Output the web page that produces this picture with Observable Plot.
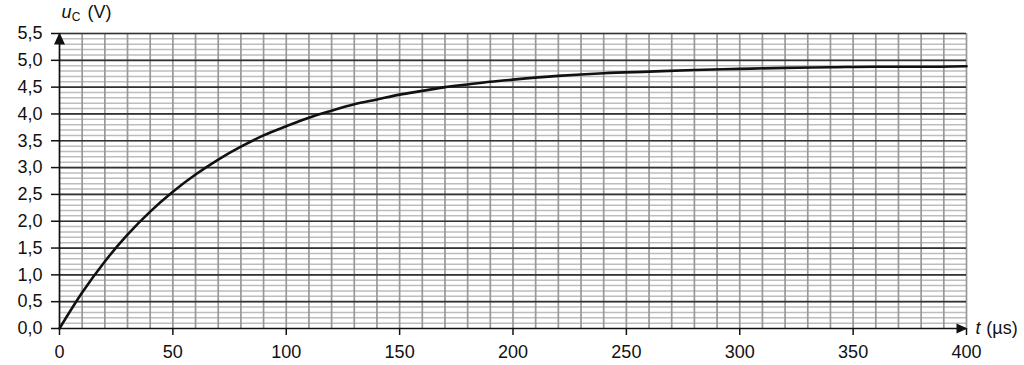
<!DOCTYPE html>
<html>
<head>
<meta charset="utf-8">
<script src="https://cdn.jsdelivr.net/npm/d3@7"></script>
<script src="https://cdn.jsdelivr.net/npm/@observablehq/plot@0.6"></script>
<style>
  html, body { margin: 0; padding: 0; background: #fff; }
  #chart svg { display: block; }
</style>
</head>
<body>
<div id="chart"></div>
<script>
// Data
const tValues = [0, 10, 20, 30, 40, 50, 60, 70, 80, 90, 100, 110, 120, 130, 140, 150, 160, 170, 180, 190, 200,
                 220, 240, 260, 280, 300, 320, 340, 360, 380, 400];
const uValues = [0, 0.67, 1.25, 1.75, 2.18, 2.55, 2.87, 3.15, 3.39, 3.60, 3.77, 3.93, 4.06, 4.18, 4.27, 4.36, 4.43, 4.50, 4.55, 4.60, 4.64,
                 4.71, 4.76, 4.79, 4.82, 4.84, 4.86, 4.87, 4.88, 4.88, 4.89];
const xTicks = [0, 50, 100, 150, 200, 250, 300, 350, 400];
const yTicks = [0, 0.5, 1, 1.5, 2, 2.5, 3, 3.5, 4, 4.5, 5, 5.5];
const xGrid = d3.range(10, 401, 10);
const yMinor = d3.range(1, 56).map(i => i / 10);

const data = tValues.map((t, i) => ({t, u: uValues[i]}));

const arrowUp = { draw(ctx) { ctx.moveTo(0, -1); ctx.lineTo(5.5, 11); ctx.lineTo(-5.5, 11); ctx.closePath(); } };
const arrowRight = { draw(ctx) { ctx.moveTo(1, 0); ctx.lineTo(-10, -5); ctx.lineTo(-10, 5); ctx.closePath(); } };

const font = "'Liberation Sans', Arial, sans-serif";
const yAnchor = [{t: 0, u: 5.5}];
const xAnchor = [{t: 400, u: 0}];

const chart = Plot.plot({
  width: 1024,
  height: 365,
  marginLeft: 59,
  marginRight: 58,
  marginTop: 33,
  marginBottom: 37,
  x: {domain: [0, 400]},
  y: {domain: [0, 5.5]},
  style: {fontFamily: font, fontSize: "18px", color: "#111", background: "#fff"},
  marks: [
    Plot.ruleY(yMinor, {stroke: "#bdbdbd", strokeWidth: 1.5}),
    Plot.ruleX(xGrid, {stroke: "#999", strokeWidth: 1.7}),
    Plot.ruleY(yTicks.filter(d => d > 0), {stroke: "#333", strokeWidth: 1.7}),
    Plot.line(data, {x: "t", y: "u", stroke: "#111", strokeWidth: 2.6, curve: "monotone-x"}),
    Plot.ruleX([0], {stroke: "#111", strokeWidth: 1.7}),
    Plot.ruleY([0], {stroke: "#111", strokeWidth: 1.7}),
    Plot.axisX({ticks: xTicks, tickSize: 7, tickPadding: 10, tickFormat: d => String(d), label: null, fontSize: 18, stroke: "#111", strokeWidth: 1.5}),
    Plot.axisY({ticks: yTicks, tickSize: 8, tickPadding: 9, tickFormat: d => d.toFixed(1).replace(".", ","), label: null, fontSize: 18, stroke: "#111", strokeWidth: 1.5}),
    Plot.dot(yAnchor, {x: "t", y: "u", symbol: arrowUp, r: 5, fill: "#111", stroke: null}),
    Plot.dot(xAnchor, {x: "t", y: "u", symbol: arrowRight, r: 5, fill: "#111", stroke: null}),
    // axis label u_C (V), each piece centred on its own position
    Plot.text(yAnchor, {x: "t", y: "u", text: () => "u", textAnchor: "middle", lineAnchor: "middle", dx: 7, dy: -21.5, fontSize: 18, fontStyle: "italic", fill: "#111"}),
    Plot.text(yAnchor, {x: "t", y: "u", text: () => "C", textAnchor: "middle", lineAnchor: "middle", dx: 16.5, dy: -16.5, fontSize: 12, fill: "#111"}),
    Plot.text(yAnchor, {x: "t", y: "u", text: () => "(V)", textAnchor: "middle", lineAnchor: "middle", dx: 40, dy: -21.5, fontSize: 18, fill: "#111"}),
    // axis label t (µs)
    Plot.text(xAnchor, {x: "t", y: "u", text: () => "t", textAnchor: "middle", lineAnchor: "middle", dx: 11.5, dy: 0, fontSize: 18, fontStyle: "italic", fill: "#111"}),
    Plot.text(xAnchor, {x: "t", y: "u", text: () => "(µs)", textAnchor: "middle", lineAnchor: "middle", dx: 35.5, dy: 0, fontSize: 18, fill: "#111"})
  ]
});

document.getElementById("chart").appendChild(chart);
</script>
</body>
</html>
